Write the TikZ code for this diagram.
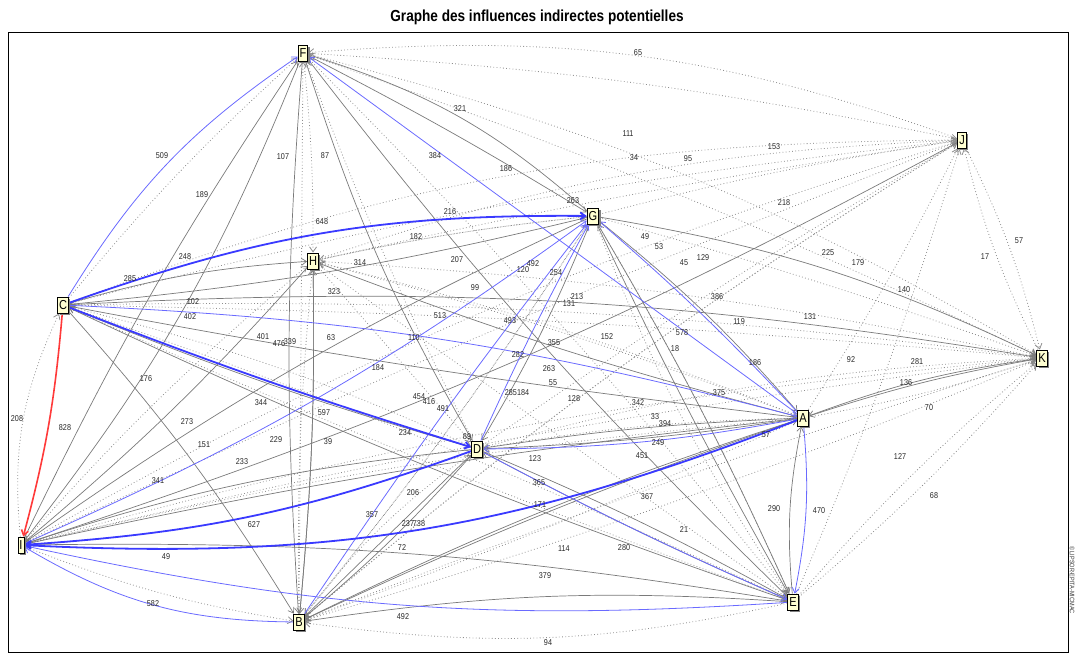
\documentclass[tikz,border=0pt]{standalone}
\usepackage{fontspec}
\setmainfont{Liberation Sans}
\newfontfamily\narrowsans[FakeStretch=0.85]{Liberation Sans}
\usetikzlibrary{arrows.meta,shadows}

\definecolor{cream}{HTML}{FFFFD2}
\definecolor{linkgray}{HTML}{7A7A7A}
\definecolor{dotgray}{HTML}{8E8E8E}
\definecolor{thinblue}{HTML}{6A6AFF}
\definecolor{thickblue}{HTML}{3A3AFF}
\definecolor{strongred}{HTML}{FF3A3A}

\begin{document}
\begin{tikzpicture}[x=1pt,y=-1pt,
  var/.style={draw=black, line width=0.9pt, fill=cream,
    font=\narrowsans\fontsize{13}{13}\selectfont, inner xsep=1.5pt, inner ysep=1pt,
    minimum height=16pt,
    drop shadow={shadow xshift=2pt, shadow yshift=-2pt, fill=black!50, opacity=1}},
  tip/.style={-{Straight Barb[length=5pt,width=7pt]}},
  weak/.style={tip, draw=dotgray, line width=0.8pt, dash pattern=on 0.8pt off 2.4pt},
  moderate/.style={tip, draw=linkgray, line width=0.7pt},
  relstrong/.style={tip, draw=thinblue, line width=0.8pt},
  strong/.style={tip, draw=thickblue, line width=1.8pt},
  strongest/.style={tip, draw=strongred, line width=1.6pt},
  num/.style={font=\narrowsans\fontsize{8.5}{9}\selectfont, inner sep=0pt, text=black!85}
]
\useasboundingbox (0,0) rectangle (1075,654);

% title and frame
\node[font=\narrowsans\bfseries\fontsize{16}{16}\selectfont] (title) at (537,17)
  {Graphe des influences indirectes potentielles};
\draw[line width=0.8pt] (8,32) rectangle (1068,652);
\node[rotate=-90, font=\narrowsans\fontsize{6.5}{7}\selectfont, text=black!80] (copy) at (1072,580)
  {© LIPSOR-EPITA-MICMAC};

% variables (positions only; drawn again on top at the end)
\path (303,53) coordinate (pF) (962,140) coordinate (pJ) (593,216) coordinate (pG)
      (313,261) coordinate (pH) (63,305) coordinate (pC) (1042,358) coordinate (pK)
      (803,418) coordinate (pA) (477,449) coordinate (pD) (21,545) coordinate (pI)
      (299,622) coordinate (pB) (793,602) coordinate (pE);
\foreach \v in {F,J,G,H,C,K,A,D,I,B,E}
  \node[var] (\v) at (p\v) {\v};

% weak influences
\foreach \s/\t/\b in {J/F/-12, C/J/10, H/J/8, G/J/3, D/J/2, I/J/6, B/J/4, A/J/-3, E/J/-3,
    F/J/4, C/J/4, H/J/2, I/J/2,
    J/K/6, K/J/6, F/K/8, H/K/4, D/K/6, I/K/5, B/K/-3, E/K/4, E/K/-4, A/K/-4,
    C/K/2, G/K/2, F/K/3, B/K/2,
    F/H/3, C/F/4, I/C/15, H/G/3, G/H/-3, H/D/0, H/A/4, H/E/0, B/F/0, D/F/3, E/F/-3,
    C/E/3, I/A/4, B/G/-3, D/B/-8, E/G/-3, E/C/2, G/B/3, A/B/2, I/H/4, B/H/3, E/B/10,
    A/D/-4, I/D/-8, K/C/-4, K/I/-3, J/B/-4, I/B/-6, C/D/5, A/H/-3, G/E/-6}
  \draw[weak] (\s) to[bend left=\b] (\t);

% moderate influences
\foreach \s/\t/\b in {G/F/-12, F/G/2, I/F/4, F/I/8, F/B/-4, H/B/3, B/H/-3, F/D/-6, F/E/-4,
    C/H/6, C/K/6, G/K/8, G/C/4, A/H/3, D/C/3, A/C/2, C/E/-3, C/B/5, H/I/4, G/I/-5,
    J/I/5, D/I/-6, A/I/-3, I/E/5, B/D/0, D/B/4, B/A/3, A/B/-4, E/B/-6, D/E/3, E/D/2,
    D/A/3, A/D/3, G/D/4, G/A/5, G/E/3, G/E/-2, A/K/4, K/A/-6, E/A/8}
  \draw[moderate] (\s) to[bend left=\b] (\t);

% relatively strong influences
\foreach \s/\t/\b in {C/F/12, A/F/0, C/A/6, A/G/-3, I/G/-6, B/G/2, D/G/2, B/I/15,
    E/I/8, A/D/5, D/E/-2, A/E/8}
  \draw[relstrong] (\s) to[bend left=\b] (\t);

% strong influences
\foreach \s/\t/\b in {C/G/10, C/D/-2, D/I/8, A/I/12}
  \draw[strong] (\s) to[bend left=\b] (\t);
\draw[strongest] (C) to[bend left=5] (I);

% redraw variables above the links
\foreach \v in {F,J,G,H,C,K,A,D,I,B,E}
  \node[var] at (p\v) {\v};

% link values
\foreach \t/\x/\y [count=\n] in {509/162/156, 189/202/195, 107/283/157, 87/325/156,
    65/638/53, 321/460/109, 111/628/134, 34/634/158, 95/688/159, 153/774/147,
    384/435/156, 186/506/169, 263/573/201, 218/784/203, 648/322/222, 216/450/212,
    182/416/237, 248/185/257, 285/130/279, 314/360/263, 207/457/260, 120/523/270,
    492/533/264, 254/556/273, 99/475/288, 213/577/297, 131/569/304, 323/334/292,
    102/193/302, 402/190/317, 513/440/316, 49/645/237, 53/659/247, 45/684/263,
    129/703/258, 225/828/253, 179/858/263, 17/985/257, 57/1019/241, 140/904/290,
    386/717/297, 131/810/317, 119/739/322, 493/510/321, 578/682/333, 152/607/337,
    18/675/349, 355/554/343, 401/263/337, 476/279/344, 339/290/342, 63/331/338,
    110/414/338, 282/518/355, 186/755/363, 92/851/360, 281/917/362, 184/378/368,
    263/549/369, 55/553/383, 375/719/393, 136/906/383, 176/146/379, 285184/517/393,
    128/574/399, 342/638/403, 454/419/397, 416/429/402, 491/443/409, 70/929/408,
    344/261/403, 597/324/413, 273/187/422, 33/655/417, 394/665/424, 234/405/433,
    208/17/419, 828/65/428, 151/204/445, 229/276/440, 39/328/442, 89/467/437,
    249/658/443, 57/766/435, 451/642/456, 233/242/462, 123/535/459, 127/900/457,
    341/158/481, 365/539/483, 171/540/505, 367/647/497, 68/934/496, 206/413/493,
    290/774/509, 470/819/511, 357/372/515, 237/408/524, 738/419/524, 627/254/525,
    21/684/530, 72/402/548, 114/564/549, 280/624/548, 49/166/557, 379/545/576,
    582/153/604, 492/403/617, 94/548/643}
  \node[num] (val\n) at (\x,\y) {\t};
\end{tikzpicture}
\end{document}
